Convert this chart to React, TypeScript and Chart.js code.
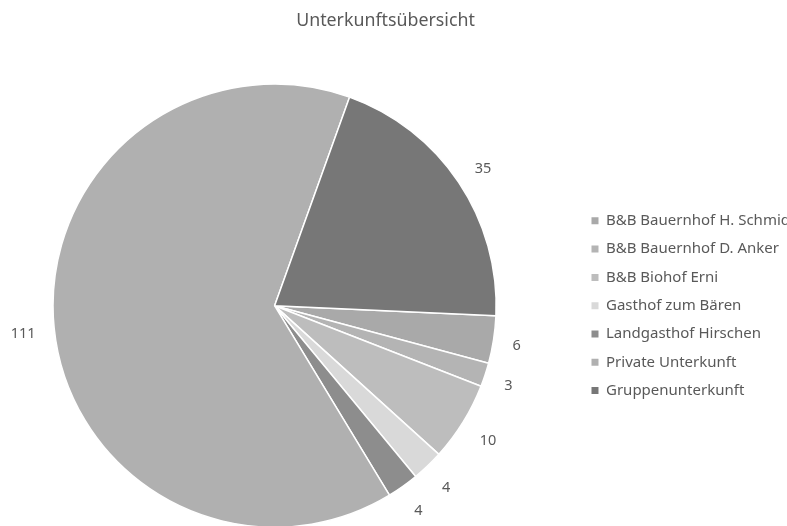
import React, { useEffect, useRef } from "react";
import { Chart, registerables } from "chart.js";

Chart.register(...registerables);

const TITLE = "Unterkunftsübersicht";
const categories = [
  "B&B Bauernhof H. Schmid",
  "B&B Bauernhof D. Anker",
  "B&B Biohof Erni",
  "Gasthof zum Bären",
  "Landgasthof Hirschen",
  "Private Unterkunft",
  "Gruppenunterkunft",
];
const values = [6, 3, 10, 4, 4, 111, 35];
const colors = ["#a9a9a9", "#b4b4b4", "#bdbdbd", "#d9d9d9", "#8d8d8d", "#b0b0b0", "#777777"];

const FONT = "'Noto Sans', 'Open Sans', sans-serif";
const TEXT_COLOR = "#595959";

const labelPlugin = {
  id: "outsideLabels",
  afterDatasetsDraw(chart: any) {
    const ctx = chart.ctx;
    const meta = chart.getDatasetMeta(0);
    const data = chart.data.datasets[0].data;
    ctx.save();
    ctx.font = `14.5px ${FONT}`;
    ctx.fillStyle = TEXT_COLOR;
    ctx.textAlign = "center";
    ctx.textBaseline = "middle";
    meta.data.forEach((arc: any, i: number) => {
      const p = arc.getProps(["x", "y", "startAngle", "endAngle", "outerRadius"], true);
      const mid = (p.startAngle + p.endAngle) / 2;
      const c = Math.cos(mid);
      const s = Math.sin(mid);
      const text = String(data[i]);
      const w = ctx.measureText(text).width;
      const h = 16;
      const ext = (Math.abs(c) * w) / 2 + (Math.abs(s) * h) / 2;
      const d = p.outerRadius + 18 + ext;
      ctx.fillText(text, p.x + c * d, p.y + s * d + 3);
    });
    ctx.restore();
  },
};

export default function App() {
  const ref = useRef<HTMLCanvasElement | null>(null);
  useEffect(() => {
    if (!ref.current) return;
    const chart = new Chart(ref.current, {
      type: "pie",
      data: {
        labels: categories,
        datasets: [
          {
            data: values,
            backgroundColor: colors,
            borderColor: "#ffffff",
            borderWidth: 1.5,
          },
        ],
      },
      options: {
        responsive: false,
        animation: false,
        devicePixelRatio: 1,
        rotation: 92.6,
        layout: { padding: { left: 0, right: 0, top: 0, bottom: 0 } },
        plugins: {
          title: {
            display: true,
            text: TITLE,
            color: TEXT_COLOR,
            font: { family: FONT, size: 17.8, weight: "normal" },
            padding: { top: 10, bottom: 52 },
          },
          legend: {
            display: true,
            position: "right",
            fullSize: false,
            labels: {
              boxWidth: 7,
              boxHeight: 7,
              padding: 13.3,
              color: TEXT_COLOR,
              font: { family: FONT, size: 15 },
              generateLabels: (chart: any) => {
                const base = (Chart as any).overrides.doughnut.plugins.legend.labels.generateLabels(chart);
                return base.map((l: any) => ({ ...l, lineWidth: 0, strokeStyle: "rgba(0,0,0,0)" }));
              },
            },
          },
          tooltip: { enabled: false },
        },
      },
      plugins: [labelPlugin],
    });
    return () => chart.destroy();
  }, []);
  return (
    <div style={{ position: "fixed", left: -29, top: 0, width: 829, height: 528 }}>
      <canvas ref={ref} width={829} height={528} style={{ width: 829, height: 528, display: "block" }} />
    </div>
  );
}
